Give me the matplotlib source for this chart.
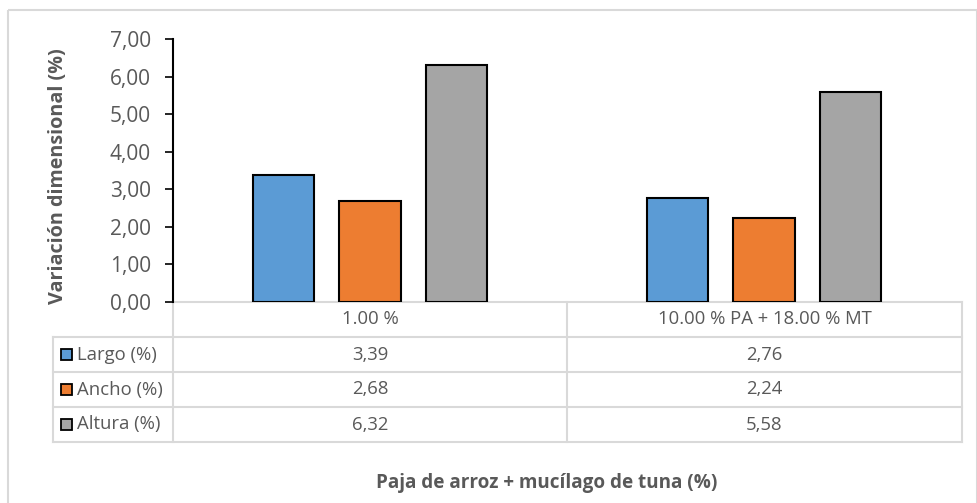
import numpy as np
import matplotlib.pyplot as plt
from matplotlib.patches import Rectangle

plt.rcParams['font.family'] = ['Open Sans', 'DejaVu Sans']

# data
categories = ['1.00 %', '10.00 % PA + 18.00 % MT']
series_names = ['Largo (%)', 'Ancho (%)', 'Altura (%)']
largo = [3.39, 2.76]
ancho = [2.68, 2.24]
altura = [6.32, 5.58]
colors = ['#5B9BD5', '#ED7D31', '#A5A5A5']

text_color = '#595959'
grid_color = '#D9D9D9'

W, H = 978, 503
fig = plt.figure(figsize=(W / 100, H / 100), dpi=100)

# pixel-space overlay for the frame and the data table
lay = fig.add_axes([0, 0, 1, 1])
lay.set_xlim(0, W)
lay.set_ylim(H, 0)
lay.axis('off')

# plot area
ax_l, ax_r, ax_t, ax_b = 173, 961, 39, 302
ax = fig.add_axes([ax_l / W, 1 - ax_b / H, (ax_r - ax_l) / W, (ax_b - ax_t) / H])
ax.patch.set_alpha(0)

x = np.arange(len(categories))
width = 0.155
offsets = [-0.22, 0.0, 0.22]
for vals, off, c in zip([largo, ancho, altura], offsets, colors):
    ax.bar(x + off, vals, width, color=c, edgecolor='black', linewidth=1.5, zorder=3)

ax.set_xlim(-0.5, len(categories) - 0.5)
ax.set_ylim(0, 7)
ax.set_yticks(np.arange(0, 7.01, 1))
ax.set_yticklabels(['{:.2f}'.format(v).replace('.', ',') for v in np.arange(0, 7.01, 1)])
ax.tick_params(axis='y', direction='out', length=6, width=1.2, color='black',
               labelsize=15, labelcolor=text_color, pad=10)
ax.set_xticks([])
for s in ['top', 'right', 'bottom']:
    ax.spines[s].set_visible(False)
ax.spines['left'].set_linewidth(1.5)
ax.set_ylabel('Variación dimensional (%)', fontsize=14.2, fontweight='bold',
              color=text_color)
ax.yaxis.set_label_coords(-0.133, 0.477)

# outer frame
lay.add_patch(Rectangle((8, 10), 969, 520, fill=False, edgecolor=grid_color, linewidth=1.5))

# data table
row_y = [302, 337, 372, 407, 442]
col_x = [53, 173, 567, 962]
lw = 1.5
# header row
lay.plot([col_x[1], col_x[3]], [row_y[0], row_y[0]], color=grid_color, lw=lw)
for cx in col_x[1:]:
    lay.plot([cx, cx], [row_y[0], row_y[-1]], color=grid_color, lw=lw)
for ry in row_y[1:]:
    lay.plot([col_x[0], col_x[3]], [ry, ry], color=grid_color, lw=lw)
lay.plot([col_x[0], col_x[0]], [row_y[1], row_y[-1]], color=grid_color, lw=lw)

for i, cat in enumerate(categories):
    cx = (col_x[i + 1] + col_x[i + 2]) / 2
    lay.text(cx, (row_y[0] + row_y[1]) / 2, cat, ha='center', va='center',
             fontsize=13.3, color=text_color)

for j, (name, vals, c) in enumerate(zip(series_names, [largo, ancho, altura], colors)):
    cy = (row_y[j + 1] + row_y[j + 2]) / 2
    lay.add_patch(Rectangle((61, cy - 5.5), 11, 11, facecolor=c, edgecolor='black', linewidth=1.3))
    lay.text(77, cy, name, ha='left', va='center', fontsize=13.3, color=text_color)
    for i, v in enumerate(vals):
        cx = (col_x[i + 1] + col_x[i + 2]) / 2
        lay.text(cx, cy, '{:.2f}'.format(v).replace('.', ','), ha='center', va='center',
                 fontsize=13.3, color=text_color)

lay.text(547, 483, 'Paja de arroz + mucílago de tuna (%)', ha='center', va='center',
         fontsize=13.6, fontweight='bold', color=text_color)

fig.savefig('out.png', dpi=100)
